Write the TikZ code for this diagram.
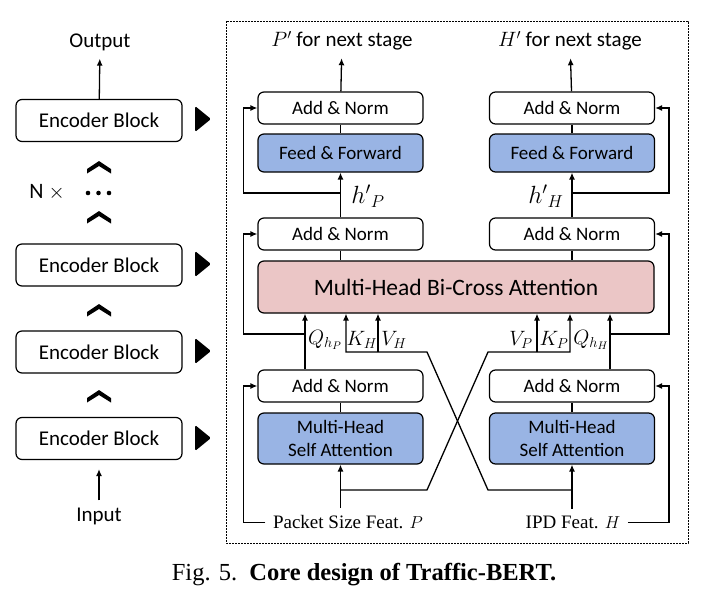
\documentclass[tikz,border=0pt]{standalone}
\usepackage{amsmath}
\usepackage{fontspec}
\setmainfont{Liberation Serif}
\setsansfont{Carlito}
\usetikzlibrary{arrows.meta}

\definecolor{ffblue}{RGB}{153,180,228}
\definecolor{bcpink}{RGB}{235,198,198}

\tikzset{
  blk/.style={draw, rounded corners=6pt, line width=1.2pt, inner sep=0pt, align=center,
    font=\sffamily\fontsize{19}{23}\selectfont},
  encblk/.style={blk, minimum width=166pt, minimum height=42pt, font=\sffamily\fontsize{21}{25}\selectfont},
  addnorm/.style={blk, minimum width=165pt, minimum height=32pt},
  lbl/.style={inner sep=7pt, font=\sffamily\fontsize{21}{25}\selectfont},
  qkv/.style={inner sep=1pt, font=\fontsize{21}{25}\selectfont},
  arr/.style={-{Latex[length=7pt,width=6pt]}, line width=1.3pt},
}

\begin{document}
\begin{tikzpicture}[x=1pt, y=-1pt, line width=1.3pt]
  \useasboundingbox (0,0) rectangle (723,603);

  % stack of encoder blocks
  \foreach \nm/\y in {e1/120.5, e2/265, e3/352, e4/438.5}
    \node[encblk] (\nm) at (99,\y) {Encoder Block};
  \node[lbl] (out) at (100,42.5) {Output};
  \node[lbl] (inp) at (99,516.5) {Input};
  \draw[arr] (e1) -- (out);
  \draw[arr, shorten >=9pt] (inp) -- (e4);

  \foreach \y in {167,217,310,396}
    \fill (87,\y+2) -- (99,\y-6) -- (111,\y+2) -- (111,\y+6.5) -- (99,\y-1) -- (87,\y+6.5) -- cycle;
  \foreach \x in {88,98.5,109}
    \fill (\x,193) circle (2.3pt);
  \node[lbl, font=\sffamily\fontsize{22}{26}\selectfont] (rep) at (47,192) {N $\times$};

  \foreach \y in {119,264,351,438}
    \fill[rounded corners=1.5pt] (195,\y-13) -- (211,\y) -- (195,\y+13) -- cycle;

  % one encoder block
  \draw[dash pattern=on 2pt off 1pt, line width=0.8pt] (226,21) rectangle (688,543);

  \node[addnorm] (anP2) at (340.5,108) {Add \& Norm};
  \node[addnorm] (anH2) at (572,108) {Add \& Norm};
  \node[blk, fill=ffblue, minimum width=165pt, minimum height=38pt] (ffP) at (340.5,153) {Feed \& Forward};
  \node[blk, fill=ffblue, minimum width=165pt, minimum height=38pt] (ffH) at (572,153) {Feed \& Forward};
  \node[addnorm] (anP1) at (340.5,234) {Add \& Norm};
  \node[addnorm] (anH1) at (572,234) {Add \& Norm};
  \node[blk, fill=bcpink, minimum width=396pt, minimum height=52pt,
    font=\sffamily\fontsize{23.5}{27}\selectfont] (bca) at (456,287) {Multi-Head Bi-Cross Attention};
  \node[addnorm] (anP0) at (340.5,386) {Add \& Norm};
  \node[addnorm] (anH0) at (572,386) {Add \& Norm};
  \node[blk, fill=ffblue, minimum width=165pt, minimum height=51pt,
    font=\sffamily\fontsize{19}{22.5}\selectfont] (saP) at (340.5,438.5) {Multi-Head\\Self Attention};
  \node[blk, fill=ffblue, minimum width=165pt, minimum height=51pt,
    font=\sffamily\fontsize{19}{22.5}\selectfont] (saH) at (572,438.5) {Multi-Head\\Self Attention};

  \node[lbl] (pout) at (342,41) {$P'$ for next stage};
  \node[lbl] (hout) at (570,41) {$H'$ for next stage};
  \node[inner sep=7pt, font=\fontsize{19}{23}\selectfont] (pin) at (348,522.5) {Packet Size Feat. $P$};
  \node[inner sep=7pt, font=\fontsize{19}{23}\selectfont] (hin) at (573,522.5) {IPD Feat. $H$};

  \node[font=\fontsize{24}{28}\selectfont] (hP) at (368,196) {$h'{}_{P}$};
  \node[font=\fontsize{24}{28}\selectfont] (hH) at (546,196) {$h'{}_{H}$};
  \node[qkv] (qP) at (325,340) {$Q_{h_P}$};
  \node[qkv] (kHl) at (362,340) {$K_H$};
  \node[qkv] (vHl) at (394,340) {$V_H$};
  \node[qkv] (vPl) at (521,340) {$V_P$};
  \node[qkv] (kPl) at (554,340) {$K_P$};
  \node[qkv] (qH) at (591,340) {$Q_{h_H}$};

  \coordinate (pS) at (340.5,490);
  \coordinate (hS) at (572,490);
  \coordinate (kH) at (346,352);
  \coordinate (vH) at (378,352);
  \coordinate (vP) at (537,352);
  \coordinate (kP) at (570,352);
  \coordinate (rP2) at (340.5,193);
  \coordinate (rH2) at (572,193);
  \coordinate (rP1) at (305,334);
  \coordinate (rH1) at (610,334);

  % top of the block
  \draw[arr] (anP2) -- (pout);
  \draw[arr] (anH2) -- (hout);
  \draw (ffP) -- (anP2);
  \draw (ffH) -- (anH2);
  \draw[arr] (anP1.north) -- (ffP.south);
  \draw[arr] (anH1.north) -- (ffH.south);
  \draw[arr] (rP2) -| ([xshift=-14pt]anP2.west) -- (anP2.west);
  \draw[arr] (rH2) -| ([xshift=14pt]anH2.east) -- (anH2.east);
  \draw (anP1.south) -- (anP1.south |- bca.north);
  \draw (anH1.south) -- (anH1.south |- bca.north);

  % queries, keys and values
  \draw[arr] (rP1 |- anP0.north) -- (rP1 |- bca.south);
  \draw[arr] (rH1 |- anH0.north) -- (rH1 |- bca.south);
  \draw[arr] (rP1) -| ([xshift=-14pt]anP1.west) -- (anP1.west);
  \draw[arr] (rH1) -| ([xshift=14pt]anH1.east) -- (anH1.east);
  \draw[arr] (hS) -- (488,490) -- (427,352) -- (kH) -- (kH |- bca.south);
  \draw[arr] (vH) -- (vH |- bca.south);
  \draw[arr] (pS) -- (427,490) -- (488,352) -- (kP) -- (kP |- bca.south);
  \draw[arr] (vP) -- (vP |- bca.south);

  % inputs
  \draw (saP) -- (anP0);
  \draw (saH) -- (anH0);
  \draw[arr] (pin.north -| saP) -- (saP);
  \draw[arr] (hin.north -| saH) -- (saH);
  \draw[arr] (pin.west) -| ([xshift=-14pt]anP0.west) -- (anP0.west);
  \draw[arr] (hin.east) -| ([xshift=14pt]anH0.east) -- (anH0.east);

  \node[font=\fontsize{24.5}{28}\selectfont] (cap) at (364,575)
    {Fig. 5.\hspace{0.5em}\textbf{Core design of Traffic-BERT.}};
\end{tikzpicture}
\end{document}
